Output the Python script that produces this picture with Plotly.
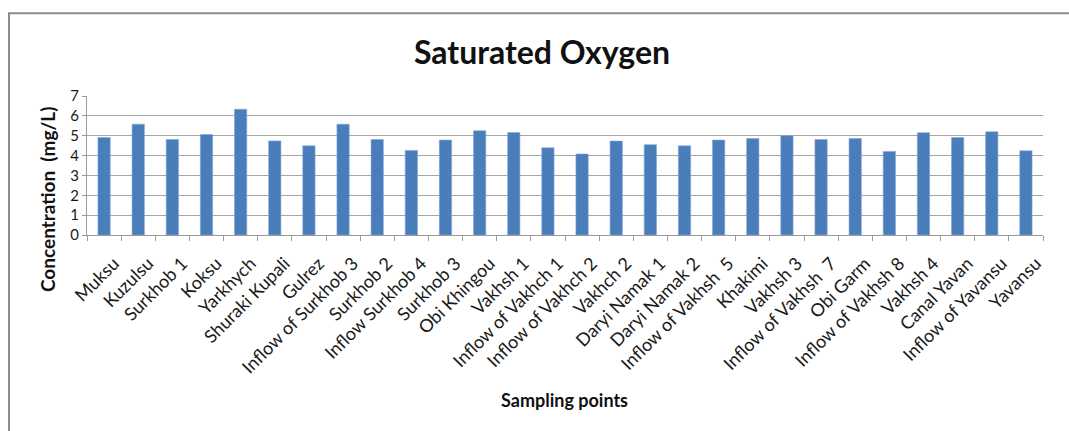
import plotly.graph_objects as go

# Sampling sites along the river network
sites = [
    "Muksu", "Kuzulsu", "Surkhob 1", "Koksu", "Yarkhych", "Shuraki Kupali",
    "Gulrez", "Inflow of Surkhob 3", "Surkhob 2", "Inflow Surkhob 4",
    "Surkhob 3", "Obi Khingou", "Vakhsh 1", "Inflow of Vakhch 1",
    "Inflow of Vakhch 2", "Vakhch 2", "Daryi Namak 1", "Daryi Namak 2",
    "Inflow of Vakhsh  5", "Khakimi", "Vakhsh 3", "Inflow of Vakhsh  7",
    "Obi Garm", "Inflow of Vakhsh 8", "Vakhsh 4", "Canal Yavan",
    "Inflow of Yavansu", "Yavansu",
]

# Saturated oxygen concentration, mg/L
oxygen = [
    4.91, 5.58, 4.81, 5.06, 6.33, 4.74,
    4.49, 5.58, 4.81, 4.26,
    4.78, 5.25, 5.16, 4.39,
    4.08, 4.73, 4.55, 4.49,
    4.78, 4.86, 5.00, 4.81,
    4.86, 4.21, 5.15, 4.91,
    5.20, 4.24,
]

y_ticks = [0, 1, 2, 3, 4, 5, 6, 7]

FONT = "Lato, Open Sans, sans-serif"
W, H = 1069, 431
ML, MR, MT, MB = 87, 26, 96, 196
PW, PH = W - ML - MR, H - MT - MB


def px_x(x):
    return (x - ML) / PW


def px_y(y):
    return (H - MB - y) / PH


fig = go.Figure(
    go.Bar(
        x=sites,
        y=oxygen,
        marker=dict(color="#4a7ebb", line=dict(color="#7fa6d6", width=0.6)),
    )
)

fig.update_layout(
    width=W,
    height=H,
    margin=dict(l=ML, r=MR, t=MT, b=MB),
    paper_bgcolor="white",
    plot_bgcolor="white",
    bargap=0.64,
    showlegend=False,
    font=dict(family=FONT, color="#1a1a1a"),
    title=dict(
        text="<b>Saturated Oxygen</b>",
        x=0.507,
        xanchor="center",
        y=0.878,
        yanchor="middle",
        font=dict(size=32, family=FONT, color="#111111"),
    ),
    shapes=[
        # outer chart frame
        dict(
            type="rect", xref="paper", yref="paper",
            x0=px_x(9), x1=px_x(1200), y0=px_y(600), y1=px_y(13.3),
            line=dict(color="#8c8c8c", width=2),
            fillcolor="rgba(0,0,0,0)", layer="above",
        )
    ],
    annotations=[
        dict(
            text="<b>Sampling points</b>",
            xref="paper", yref="paper",
            x=px_x(564), y=px_y(400),
            xanchor="center", yanchor="middle",
            showarrow=False,
            font=dict(size=18, family=FONT, color="#111111"),
        ),
        dict(
            text="<b>Concentration  (mg/L)</b>",
            xref="paper", yref="paper",
            x=px_x(47), y=px_y(200),
            xanchor="center", yanchor="middle",
            textangle=-90,
            showarrow=False,
            font=dict(size=19, family=FONT, color="#111111"),
        ),
    ],
)

fig.update_xaxes(
    type="category",
    tickangle=-45,
    tickfont=dict(size=18, family=FONT, color="#1a1a1a"),
    ticks="outside",
    tickson="boundaries",
    ticklen=5,
    tickcolor="#9a9a9a",
    ticklabelstandoff=10,
    ticklabelshift=10,
    showline=True,
    linecolor="#9a9a9a",
    linewidth=1,
    showgrid=False,
)

fig.update_yaxes(
    range=[0, 7],
    tickvals=y_ticks,
    tickfont=dict(size=15, family=FONT, color="#1a1a1a"),
    ticks="outside",
    ticklen=4,
    tickcolor="#9a9a9a",
    showline=True,
    linecolor="#9a9a9a",
    linewidth=1,
    showgrid=True,
    gridcolor="#a6a6a6",
    gridwidth=1.2,
    zeroline=False,
)

fig.write_html("out.html")
